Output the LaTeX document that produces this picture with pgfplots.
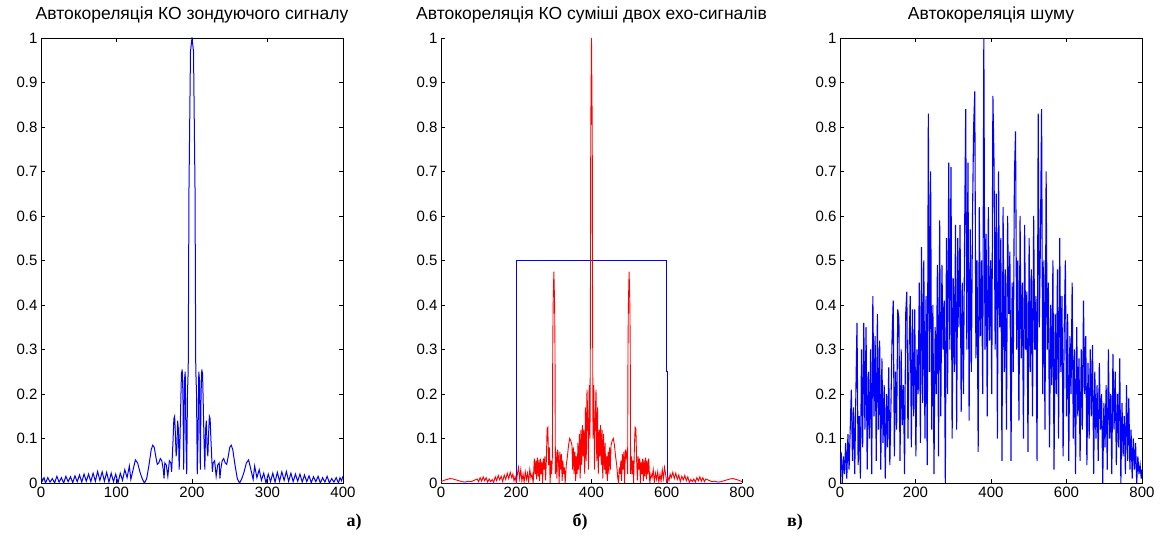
\documentclass[border=0pt]{standalone}
\usepackage{fontspec}
\setmainfont{Liberation Sans}
\newfontfamily\labfont{Liberation Serif}
\usepackage{pgfplots}
\pgfplotsset{compat=1.18}

\pgfplotsset{
  mlab/.style={
    scale only axis, height=445pt,
    anchor=south west,
    ymin=0, ymax=1,
    ytick={0,0.1,0.2,0.3,0.4,0.5,0.6,0.7,0.8,0.9,1},
    tick align=inside,
    major tick length=4pt,
    tick style={black, line width=0.5pt},
    axis line style={black, line width=0.6pt, -},
    ticklabel style={font=\fontsize{15}{17}\selectfont, black},
    /pgf/number format/assume math mode=true,
    title style={at={(0.5,1)}, anchor=south, inner sep=0pt, yshift=9pt,
      font=\fontsize{17.5}{20}\selectfont},
    clip=true,
  },
}

\begin{document}
\begin{tikzpicture}
\path[use as bounding box] (0pt,0pt) rectangle (1164pt,538pt);

% а) autocorrelation of the probing signal
\begin{axis}[mlab, at={(41pt,55pt)}, width=302pt,
  xmin=0, xmax=400, xtick={0,100,200,300,400},
  title={Автокореляція КО зондуючого сигналу}]
\addplot[blue, line width=1pt] coordinates {
(0,0.015) (2,0.005) (4,0.012) (6,0.0) (9,0.012) (12,0.002) (15,0.01) (18,0.0)
(21,0.015) (24,0.002) (27,0.012) (30,0.0) (33,0.015) (36,0.003) (39,0.014) (42,0.001)
(45,0.016) (48,0.003) (51,0.018) (54,0.002) (57,0.02) (60,0.004) (63,0.02) (66,0.003)
(69,0.022) (72,0.004) (75,0.026) (78,0.006) (81,0.025) (84,0.004) (87,0.024) (90,0.002)
(93,0.022) (96,0.003) (99,0.02) (102,0.0) (105,0.022) (108,0.006) (111,0.03) (114,0.012)
(117,0.038) (119,0.008) (122,0.03) (125,0.052) (128,0.045) (131,0.025) (134,0.01) (137,0.0)
(140,0.01) (143,0.04) (146,0.075) (148,0.085) (150,0.08) (152,0.06) (154,0.042) (156,0.045)
(158,0.055) (160,0.05) (162,0.03) (163,0.01) (164,0.045) (166,0.04) (168,0.015) (170,0.05)
(172,0.045) (173,0.025) (175,0.1) (176,0.145) (177,0.15) (178,0.11) (179,0.06) (180,0.08)
(181,0.14) (182,0.12) (183,0.03) (184,0.09) (185,0.17) (186,0.245) (187,0.255) (188,0.2)
(189,0.03) (190,0.23) (191,0.25) (192,0.1) (193,0.02) (194,0.2) (195,0.255) (196,0.66)
(198,0.97) (200,1.0)
(202,0.97) (204,0.66) (205,0.255) (206,0.2) (207,0.02) (208,0.1) (209,0.25) (210,0.23)
(211,0.03) (212,0.2) (213,0.255) (214,0.245) (215,0.17) (216,0.09) (217,0.03) (218,0.12)
(219,0.14) (220,0.08) (221,0.06) (222,0.11) (223,0.15) (224,0.145) (225,0.1) (227,0.025)
(228,0.045) (230,0.05) (232,0.015) (234,0.04) (236,0.045) (237,0.01) (238,0.03) (240,0.05)
(242,0.055) (244,0.045) (246,0.042) (248,0.06) (250,0.08) (252,0.085) (254,0.075) (257,0.04)
(260,0.01) (263,0.0) (266,0.01) (269,0.025) (272,0.045) (275,0.052) (278,0.03) (281,0.008)
(283,0.038) (286,0.012) (289,0.03) (292,0.006) (295,0.022) (298,0.0) (301,0.02) (304,0.003)
(307,0.022) (310,0.002) (313,0.024) (316,0.004) (319,0.025) (322,0.006) (325,0.026) (328,0.004)
(331,0.022) (334,0.003) (337,0.02) (340,0.004) (343,0.02) (346,0.002) (349,0.018) (352,0.003)
(355,0.016) (358,0.001) (361,0.014) (364,0.003) (367,0.015) (370,0.0) (373,0.012) (376,0.002)
(379,0.015) (382,0.0) (385,0.01) (388,0.002) (391,0.012) (394,0.0) (396,0.012) (398,0.005)
(400,0.015)
};
\end{axis}

% б) autocorrelation of the mixture of two echoes
\begin{axis}[mlab, at={(441pt,55pt)}, width=301pt,
  axis x line*=bottom, axis y line*=left,
  xmin=0, xmax=800, xtick={0,200,400,600,800},
  title={Автокореляція КО суміші двох ехо-сигналів}]
\addplot[blue, line width=1pt] coordinates {
(0,0) (200,0) (200,0.5) (600,0.5) (600,0.25) (601,0.25) (601,0) (800,0)
};
\addplot[red, line width=0.9pt] coordinates {
(0,0.003) (8,0.006) (16,0.008) (24,0.01) (32,0.009) (40,0.007) (48,0.005) (56,0.003)
(64,0.002) (72,0.004) (80,0.003) (88,0.006) (96,0.009) (100,0.003) (104,0.012) (108,0.004)
(112,0.014) (116,0.005) (120,0.012) (124,0.002) (128,0.009) (132,0.003) (136,0.008) (140,0.001)
(144,0.014) (148,0.005) (152,0.017) (156,0.007) (160,0.015) (164,0.003) (168,0.018) (172,0.008)
(176,0.022) (180,0.01) (184,0.024) (188,0.012) (191,0.02) (194,0.005) (197,0.014) (200,0.0)
(203,0.02) (206,0.035) (209,0.01) (212,0.03) (215,0.004) (218,0.02) (221,0.002) (224,0.025)
(227,0.008) (230,0.022) (233,0.002) (236,0.03) (239,0.012) (242,0.02) (245,0.0) (248,0.055)
(250,0.02) (252,0.05) (254,0.008) (256,0.057) (258,0.015) (260,0.052) (262,0.004) (264,0.055)
(266,0.02) (268,0.048) (270,0.0) (272,0.055) (274,0.03) (276,0.06) (278,0.006) (280,0.05)
(282,0.122) (284,0.125) (286,0.04) (288,0.08) (290,0.0) (292,0.05) (294,0.02) (296,0.06)
(297,0.3) (298,0.4) (300,0.475) (302,0.4) (303,0.3) (304,0.02) (306,0.07) (308,0.01)
(310,0.075) (312,0.06) (314,0.0) (316,0.07) (318,0.03) (320,0.065) (322,0.005) (324,0.05)
(326,0.02) (328,0.035) (330,0.0) (333,0.04) (336,0.06) (339,0.085) (342,0.1) (345,0.095)
(348,0.085) (350,0.03) (352,0.08) (354,0.02) (356,0.07) (358,0.005) (360,0.06) (362,0.02)
(364,0.09) (366,0.03) (368,0.11) (370,0.01) (372,0.12) (374,0.04) (376,0.13) (378,0.06)
(380,0.12) (382,0.02) (384,0.17) (386,0.05) (388,0.21) (390,0.15) (392,0.03) (394,0.22)
(396,0.1) (397,0.35) (398,0.79) (400,1.0) (402,0.79) (403,0.35)
(404,0.1) (406,0.22) (408,0.03) (410,0.15) (412,0.21) (414,0.05) (416,0.17) (418,0.02)
(420,0.12) (422,0.06) (424,0.13) (426,0.04) (428,0.12) (430,0.01) (432,0.11) (434,0.03)
(436,0.09) (438,0.02) (440,0.06) (442,0.005) (444,0.07) (446,0.02) (448,0.08) (450,0.03)
(452,0.085) (455,0.095) (458,0.1) (461,0.085) (464,0.06) (467,0.04) (470,0.01) (472,0.0)
(474,0.035) (476,0.02) (478,0.05) (480,0.005) (482,0.065) (484,0.03) (486,0.07) (488,0.0)
(490,0.075) (492,0.06) (494,0.07) (496,0.02) (497,0.3) (498,0.4) (500,0.475) (502,0.4)
(503,0.3) (504,0.02) (506,0.06) (508,0.02) (510,0.05) (512,0.0) (514,0.08) (516,0.125)
(518,0.122) (520,0.05) (522,0.006) (524,0.06) (526,0.03) (528,0.055) (530,0.0) (532,0.048)
(534,0.02) (536,0.055) (538,0.004) (540,0.052) (542,0.015) (544,0.057) (546,0.008) (548,0.05)
(550,0.02) (552,0.055) (555,0.0) (558,0.02) (561,0.012) (564,0.03) (567,0.002) (570,0.022)
(573,0.008) (576,0.025) (579,0.002) (582,0.02) (585,0.004) (588,0.03) (591,0.01) (594,0.035)
(597,0.02) (600,0.0) (603,0.014) (606,0.005) (609,0.02) (612,0.012) (616,0.024) (620,0.01)
(624,0.022) (628,0.008) (632,0.018) (636,0.003) (640,0.015) (644,0.007) (648,0.017) (652,0.005)
(656,0.014) (660,0.001) (664,0.008) (668,0.003) (672,0.009) (676,0.002) (680,0.012) (684,0.005)
(688,0.014) (692,0.004) (696,0.012) (700,0.003) (704,0.009) (712,0.006) (720,0.003) (728,0.004)
(736,0.002) (744,0.003) (752,0.005) (760,0.007) (768,0.009) (776,0.01) (784,0.008) (792,0.006)
(800,0.003)
};
\end{axis}

% в) noise autocorrelation
\begin{axis}[mlab, at={(840pt,55pt)}, width=302pt,
  xmin=0, xmax=800, xtick={0,200,400,600,800},
  title={Автокореляція шуму}]
\addplot[blue, line width=1.1pt] coordinates {
(0,0.02) (3,0.07) (6,0.0) (9,0.06) (12,0.02) (15,0.09) (18,0.01) (21,0.11) (24,0.03) (27,0.12)
(30,0.21) (33,0.05) (36,0.17) (39,0.02) (42,0.2) (45,0.36) (48,0.04) (51,0.15) (54,0.01) (57,0.3)
(60,0.08) (63,0.36) (66,0.12) (69,0.35) (72,0.03) (75,0.25) (78,0.1) (81,0.3) (84,0.02) (87,0.42)
(90,0.15) (93,0.33) (96,0.05) (99,0.38)
(102,0.12) (105,0.32) (108,0.03) (111,0.28) (114,0.09) (117,0.22) (120,0.01) (123,0.2) (126,0.08)
(129,0.26) (132,0.04) (135,0.18) (138,0.33) (141,0.41) (144,0.06) (147,0.25) (150,0.12) (153,0.39)
(156,0.37) (159,0.05) (162,0.3) (165,0.13) (168,0.22) (171,0.02) (174,0.38) (177,0.43) (180,0.1)
(183,0.3) (186,0.42) (189,0.08) (192,0.39) (195,0.15) (198,0.39)
(201,0.06) (204,0.3) (207,0.2) (210,0.45) (213,0.09) (216,0.53) (219,0.18) (222,0.5) (225,0.1)
(228,0.42) (231,0.04) (234,0.83) (237,0.25) (240,0.7) (243,0.12) (246,0.4) (249,0.02) (252,0.35)
(255,0.2) (258,0.49) (261,0.06) (264,0.59) (267,0.15) (270,0.49) (273,0.3) (276,0.41) (279,0.0)
(282,0.55) (285,0.2) (288,0.72) (291,0.3) (294,0.71) (297,0.1) (300,0.46)
(303,0.25) (306,0.58) (309,0.12) (312,0.55) (315,0.35) (318,0.58) (321,0.16) (324,0.45) (327,0.2)
(330,0.55) (333,0.84) (336,0.3) (339,0.72) (342,0.14) (345,0.57) (348,0.25) (351,0.6) (354,0.8)
(357,0.88) (360,0.28) (363,0.5) (366,0.07) (369,0.62) (372,0.33) (375,0.5) (378,0.2) (381,1.0)
(384,0.3) (387,0.56) (390,0.15) (393,0.62) (396,0.32) (399,0.5)
(402,0.2) (405,0.87) (408,0.72) (411,0.3) (414,0.65) (417,0.1) (420,0.7) (423,0.35) (426,0.55)
(429,0.05) (432,0.62) (435,0.25) (438,0.48) (441,0.12) (444,0.6) (447,0.38) (450,0.52) (453,0.05)
(456,0.45) (459,0.25) (462,0.69) (465,0.79) (468,0.3) (471,0.5) (474,0.14) (477,0.6) (480,0.28)
(483,0.45) (486,0.1) (489,0.58) (492,0.3) (495,0.43) (498,0.07) (501,0.55)
(504,0.25) (507,0.48) (510,0.15) (513,0.6) (516,0.3) (519,0.42) (522,0.05) (525,0.83) (528,0.35)
(531,0.55) (534,0.84) (537,0.2) (540,0.5) (543,0.12) (546,0.7) (549,0.3) (552,0.45) (555,0.08)
(558,0.4) (561,0.22) (564,0.5) (567,0.03) (570,0.38) (573,0.2) (576,0.48) (579,0.1) (582,0.55)
(585,0.25) (588,0.42) (591,0.06) (594,0.35) (597,0.5) (600,0.15)
(603,0.38) (606,0.05) (609,0.33) (612,0.2) (615,0.45) (618,0.1) (621,0.3) (624,0.02) (627,0.35)
(630,0.15) (633,0.28) (636,0.05) (639,0.3) (642,0.12) (645,0.41) (648,0.2) (651,0.33) (654,0.04)
(657,0.27) (660,0.1) (663,0.3) (666,0.15) (669,0.31) (672,0.02) (675,0.25) (678,0.1) (681,0.22)
(684,0.05) (687,0.27) (690,0.12) (693,0.2) (696,0.0) (699,0.18)
(702,0.08) (705,0.22) (708,0.03) (711,0.3) (714,0.1) (717,0.2) (720,0.02) (723,0.29) (726,0.12)
(729,0.25) (732,0.04) (735,0.2) (738,0.08) (741,0.28) (744,0.0) (747,0.18) (750,0.06) (753,0.15)
(756,0.02) (759,0.22) (762,0.05) (765,0.19) (768,0.03) (771,0.12) (774,0.01) (777,0.1) (780,0.03)
(783,0.09) (786,0.0) (789,0.06) (792,0.02) (795,0.04) (798,0.01) (800,0.03)
};
\end{axis}

\node[font=\labfont\bfseries\fontsize{18}{20}\selectfont] at (354pt,16pt) {а)};
\node[font=\labfont\bfseries\fontsize{18}{20}\selectfont] at (580pt,16pt) {б)};
\node[font=\labfont\bfseries\fontsize{18}{20}\selectfont] at (795pt,16pt) {в)};
\end{tikzpicture}
\end{document}
